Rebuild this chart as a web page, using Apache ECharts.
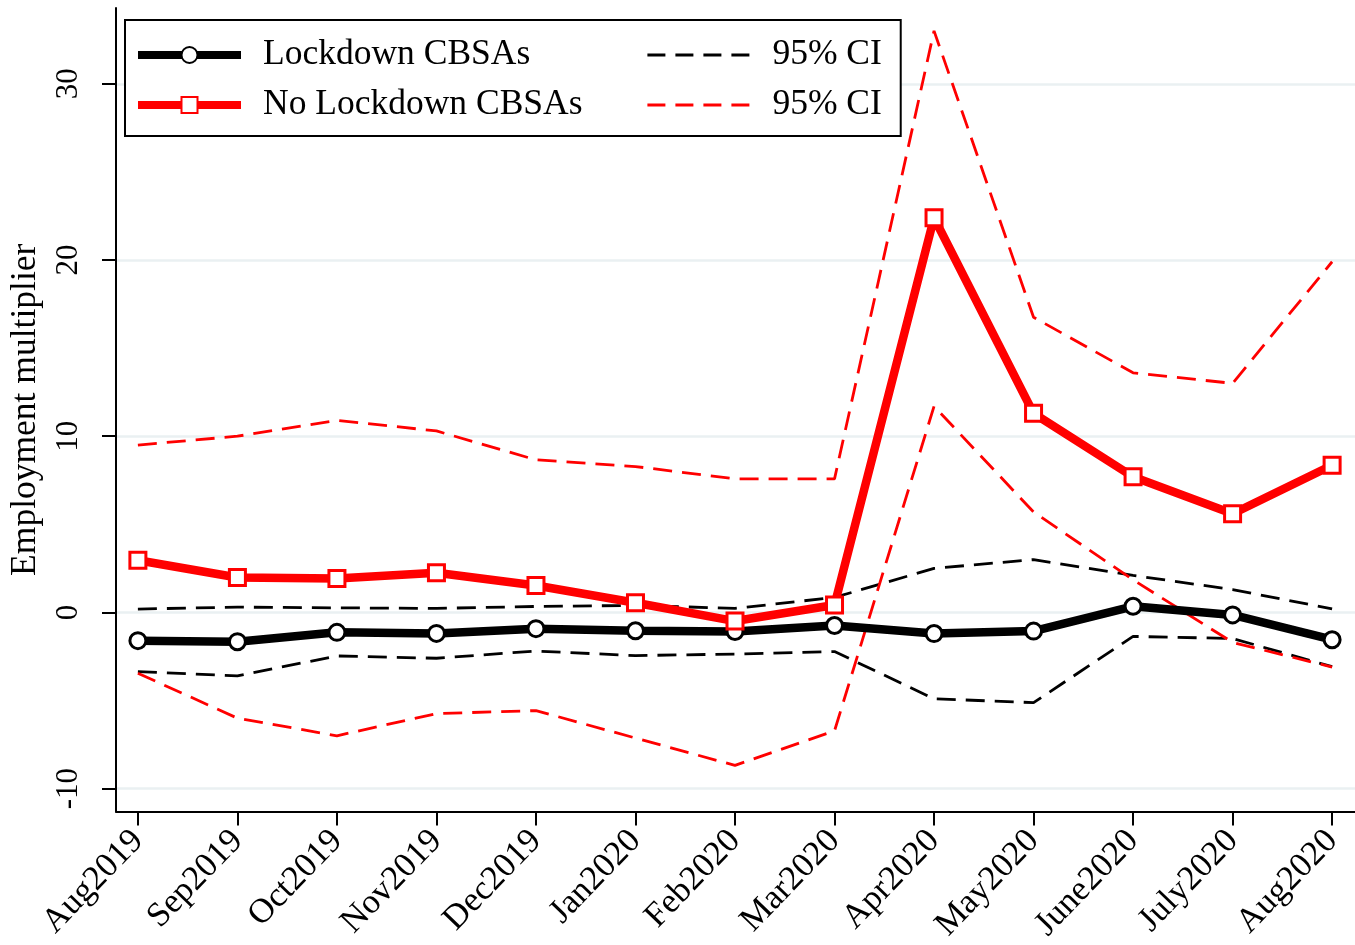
<!DOCTYPE html>
<html>
<head>
<meta charset="utf-8">
<script src="https://cdn.jsdelivr.net/npm/echarts@6/dist/echarts.min.js"></script>
<style>
  html, body { margin: 0; padding: 0; background: #fff; }
  #chart { width: 1355px; height: 945px; }
</style>
</head>
<body>
<div id="chart"></div>
<script>
const months = ['Aug2019','Sep2019','Oct2019','Nov2019','Dec2019','Jan2020','Feb2020','Mar2020','Apr2020','May2020','June2020','July2020','Aug2020'];
const lockdown        = [-1.60, -1.66, -1.13, -1.19, -0.92, -1.04, -1.08, -0.74, -1.20, -1.06, 0.35, -0.14, -1.55];
const lockdownUpper   = [0.19, 0.30, 0.26, 0.23, 0.34, 0.40, 0.23, 0.85, 2.50, 3.00, 2.10, 1.30, 0.20];
const lockdownLower   = [-3.36, -3.60, -2.47, -2.60, -2.19, -2.45, -2.36, -2.22, -4.90, -5.12, -1.36, -1.48, -3.08];
const noLockdown      = [2.96, 1.98, 1.92, 2.25, 1.53, 0.55, -0.49, 0.42, 22.4, 11.3, 7.70, 5.60, 8.35];
const noLockdownUpper = [9.50, 10.0, 10.9, 10.3, 8.66, 8.28, 7.58, 7.58, 33.0, 16.75, 13.6, 13.0, 19.9];
const noLockdownLower = [-3.45, -6.00, -7.00, -5.74, -5.57, -7.13, -8.68, -6.72, 11.7, 5.70, 1.85, -1.70, -3.10];
const yTicks = [-10, 0, 10, 20, 30];

const FONT = 'Liberation Serif';
const pairs = arr => arr.map((v, i) => [i, v]);
const xTicks = months.map((m, i) => i);

const ciLine = (name, color, data) => ({
  name: name, type: 'line', data: pairs(data),
  symbol: 'none', showSymbol: false, silent: true,
  lineStyle: { color: color, width: 2.8, type: [19, 10] },
  itemStyle: { color: color },
  z: 2
});
const hiddenSym = { color: 'transparent', borderColor: 'transparent', opacity: 0 };

const chart = echarts.init(document.getElementById('chart'));
chart.setOption({
  animation: false,
  backgroundColor: '#ffffff',
  grid: { left: 112, right: 0, top: 8, bottom: 131 },
  legend: {
    left: 125, top: 20, width: 760,
    orient: 'horizontal',
    padding: [17, 10, 13, 9],
    itemGap: 14,
    itemWidth: 103, itemHeight: 20,
    borderColor: '#000', borderWidth: 2,
    backgroundColor: '#fff',
    selectedMode: false,
    data: [
      { name: 'Lockdown CBSAs', lineStyle: { color: '#000', width: 8 } },
      { name: '95% CI', itemStyle: hiddenSym, lineStyle: { color: '#000', width: 2.8, type: [18, 10] } },
      { name: 'No Lockdown CBSAs', lineStyle: { color: '#ff0000', width: 8 } },
      { name: '95% CI ', itemStyle: hiddenSym, lineStyle: { color: '#ff0000', width: 2.8, type: [18, 10] } }
    ],
    formatter: name => name.indexOf('95') === 0 ? '{s| }{b|' + name + '}' : '{s| }{a|' + name + '}',
    textStyle: {
      fontFamily: FONT, fontSize: 35.5, color: '#000',
      rich: {
        s: { width: 17, fontSize: 35.5, lineHeight: 34, fontFamily: FONT },
        a: { width: 369, fontSize: 35.5, lineHeight: 34, fontFamily: FONT, color: '#000' },
        b: { fontSize: 35.5, lineHeight: 34, fontFamily: FONT, color: '#000' }
      }
    }
  },
  xAxis: {
    type: 'value', min: -0.22, max: 12.23,
    axisLine: { onZero: false, lineStyle: { color: '#000', width: 2 } },
    axisTick: { show: true, length: 14, lineStyle: { color: '#000', width: 2 }, customValues: xTicks },
    axisLabel: {
      customValues: xTicks, rotate: 46, margin: 24,
      fontFamily: FONT, fontSize: 34.5, color: '#000',
      formatter: v => months[Math.round(v)]
    },
    splitLine: { show: false }
  },
  yAxis: {
    type: 'value', min: -11.3, max: 34.3,
    name: 'Employment multiplier', nameLocation: 'middle', nameGap: 72,
    nameTextStyle: { fontFamily: FONT, fontSize: 35.5, color: '#000' },
    axisLine: { show: true, onZero: false, lineStyle: { color: '#000', width: 2 } },
    axisTick: { show: true, length: 14, lineStyle: { color: '#000', width: 2 }, customValues: yTicks },
    axisLabel: { customValues: yTicks, rotate: 90, margin: 32, fontFamily: FONT, fontSize: 31, color: '#000' },
    splitLine: { show: true, lineStyle: { color: '#eaf0f2', width: 2.5 } }
  },
  series: [
    ciLine('95% CI', '#000000', lockdownUpper),
    ciLine('95% CI', '#000000', lockdownLower),
    {
      name: 'Lockdown CBSAs', type: 'line', data: pairs(lockdown),
      symbol: 'circle', symbolSize: 16, showSymbol: true,
      lineStyle: { color: '#000', width: 8.5 },
      itemStyle: { color: '#fff', borderColor: '#000', borderWidth: 3 },
      z: 3
    },
    ciLine('95% CI ', '#ff0000', noLockdownUpper),
    ciLine('95% CI ', '#ff0000', noLockdownLower),
    {
      name: 'No Lockdown CBSAs', type: 'line', data: pairs(noLockdown),
      symbol: 'rect', symbolSize: 16, showSymbol: true,
      lineStyle: { color: '#ff0000', width: 8.5 },
      itemStyle: { color: '#fff', borderColor: '#ff0000', borderWidth: 3 },
      z: 4
    }
  ]
});
</script>
</body>
</html>
